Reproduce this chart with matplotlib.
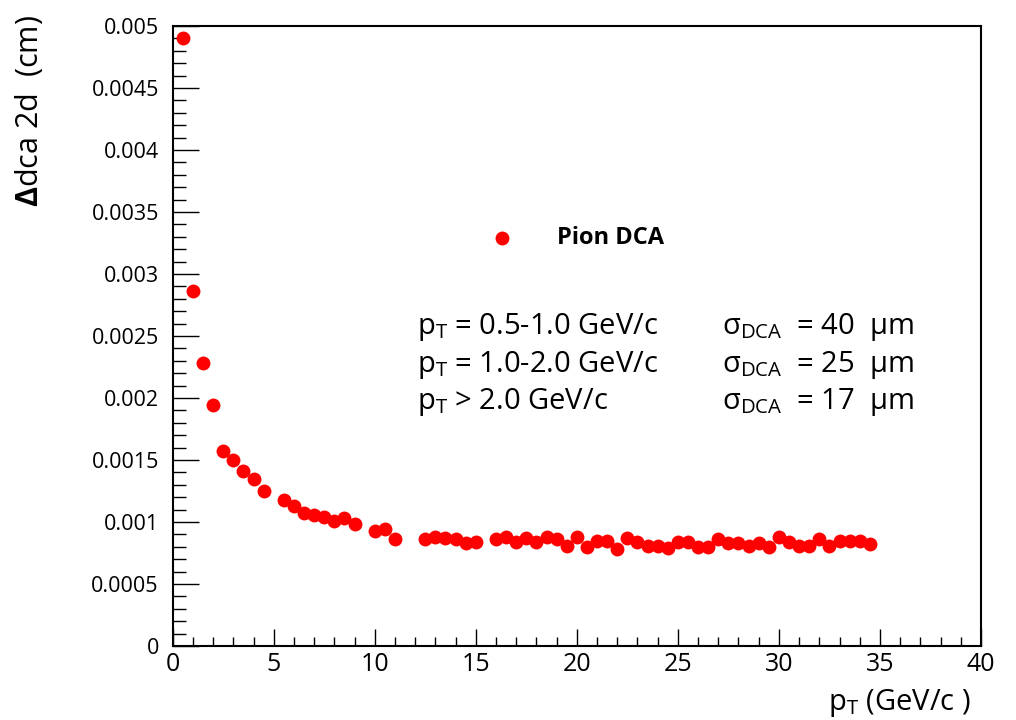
import matplotlib
matplotlib.use("Agg")
import matplotlib.pyplot as plt
from matplotlib.ticker import MultipleLocator, FuncFormatter

plt.rcParams['font.family'] = ['Open Sans', 'DejaVu Sans']
plt.rcParams['mathtext.fontset'] = 'custom'
plt.rcParams['mathtext.rm'] = 'Open Sans'
plt.rcParams['mathtext.it'] = 'Open Sans:italic'
plt.rcParams['mathtext.bf'] = 'Open Sans:bold'

# pion DCA resolution vs pT
pt = [0.5, 1.0, 1.5, 2.0, 2.5, 3.0, 3.5, 4.0, 4.5,
      5.5, 6.0, 6.5, 7.0, 7.5, 8.0, 8.5, 9.0,
      10.0, 10.5, 11.0,
      12.5, 13.0, 13.5, 14.0, 14.5, 15.0,
      16.0, 16.5, 17.0, 17.5, 18.0, 18.5, 19.0, 19.5, 20.0, 20.5,
      21.0, 21.5, 22.0, 22.5, 23.0, 23.5, 24.0, 24.5, 25.0, 25.5,
      26.0, 26.5, 27.0, 27.5, 28.0, 28.5, 29.0, 29.5, 30.0, 30.5,
      31.0, 31.5, 32.0, 32.5, 33.0, 33.5, 34.0, 34.5]
dca = [0.00490, 0.00286, 0.00228, 0.00194, 0.00157, 0.00150, 0.00141, 0.00135, 0.00125,
       0.00118, 0.00113, 0.00107, 0.00106, 0.00104, 0.00101, 0.00103, 0.00098,
       0.00093, 0.00094, 0.00086,
       0.00086, 0.00088, 0.00087, 0.00086, 0.00083, 0.00084,
       0.00086, 0.00088, 0.00084, 0.00087, 0.00084, 0.00088, 0.00086, 0.00081, 0.00088, 0.00080,
       0.00085, 0.00085, 0.00078, 0.00087, 0.00084, 0.00081, 0.00081, 0.00079, 0.00084, 0.00084,
       0.00080, 0.00080, 0.00086, 0.00083, 0.00083, 0.00081, 0.00083, 0.00080, 0.00088, 0.00084,
       0.00081, 0.00081, 0.00086, 0.00081, 0.00085, 0.00085, 0.00085, 0.00082]

pt_ranges = ['0.5-1.0', '1.0-2.0', '2.0']
sigma_dca = [40, 25, 17]

fig = plt.figure(figsize=(10.16, 7.2), dpi=100)
ax = fig.add_axes([0.170, 0.1028, 0.7955, 0.8611])

ax.plot(pt, dca, 'o', color='#ff0000', ms=10, mec='none')

ax.set_xlim(0, 40)
ax.set_ylim(0, 0.005)
ax.xaxis.set_major_locator(MultipleLocator(5))
ax.xaxis.set_minor_locator(MultipleLocator(1))
ax.yaxis.set_major_locator(MultipleLocator(0.0005))
ax.yaxis.set_minor_locator(MultipleLocator(0.0001))
ax.yaxis.set_major_formatter(FuncFormatter(lambda v, p: '%g' % round(v, 6)))

ax.tick_params(which='both', direction='in', top=False, right=False, width=1.0)
ax.tick_params(axis='y', which='major', length=19, pad=10, labelsize=15.5)
ax.tick_params(axis='y', which='minor', length=9.5)
ax.tick_params(axis='x', which='major', length=12.5, pad=4, labelsize=18)
ax.tick_params(axis='x', which='minor', length=6.3)
for s in ax.spines.values():
    s.set_linewidth(1.5)

ax.set_xlabel(r'p$_{\mathrm{T}}$ (GeV/c )', fontsize=21, loc='right')
ax.xaxis.set_label_coords(0.987, -0.066)
ax.set_ylabel(r'$\mathbf{\Delta}$dca 2d  (cm)', fontsize=22, loc='top')
ax.yaxis.set_label_coords(-0.158, 1.018)

# legend-like entry
ax.plot([16.3], [0.00329], 'o', color='#ff0000', ms=10, mec='none')
ax.text(19.0, 0.00329, 'Pion DCA', fontsize=17, fontweight='bold', va='center')

rows_y = [0.00257, 0.00227, 0.00197]
for i, (r, s) in enumerate(zip(pt_ranges, sigma_dca)):
    if i < 2:
        left = r'p$_{\mathrm{T}}$ = ' + r + ' GeV/c'
    else:
        left = r'p$_{\mathrm{T}}$ > ' + r + ' GeV/c'
    ax.text(12.1, rows_y[i], left, fontsize=21, va='center')
    ax.text(27.2, rows_y[i], r'σ$_{\mathrm{DCA}}$  = %d  µm' % s, fontsize=21, va='center')

fig.savefig('out.png', dpi=100)
